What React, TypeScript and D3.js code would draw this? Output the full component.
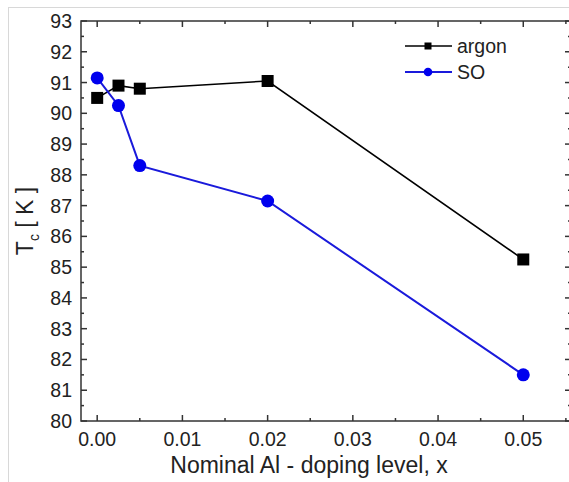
import React from "react";
import * as d3 from "d3";

const xValues = [0, 0.0025, 0.005, 0.02, 0.05];
const argon = [90.5, 90.9, 90.8, 91.05, 85.25];
const so = [91.15, 90.25, 88.3, 87.15, 81.5];
const xTicks = [0, 0.01, 0.02, 0.03, 0.04, 0.05];
const yTicks = [80, 81, 82, 83, 84, 85, 86, 87, 88, 89, 90, 91, 92, 93];

const W = 569, H = 482;
const L = 81, R = 571, T = 21, B = 421;

export default function App() {
  const x = d3.scaleLinear().domain([-0.0019, 0.0556]).range([L, R]);
  const y = d3.scaleLinear().domain([80, 93]).range([B, T]);
  const line = d3.line<number>().x((_, i) => x(xValues[i])).y(d => y(d));
  const xMinor = d3.range(0, 0.0551, 0.005);
  const yMinor = d3.range(80, 93.01, 0.5);
  const font = "Liberation Sans, Arial, sans-serif";
  return (
    <svg width={W} height={H} style={{ position: "absolute", left: 0, top: 0 }} fontFamily={font}>
      <rect x={0} y={0} width={W} height={H} fill="#fff" />
      <rect x={8.5} y={7.5} width={W + 10} height={H + 10} fill="none" stroke="#d8d8d8" strokeWidth={1} />
      {/* frame */}
      <rect x={L} y={T} width={R - L} height={B - T} fill="none" stroke="#333" strokeWidth={1.5} />
      {/* x ticks */}
      {xMinor.map((v, i) => {
        const major = Math.abs(v / 0.01 - Math.round(v / 0.01)) < 1e-6;
        const len = major ? 6 : 3;
        return (
          <g key={"xt" + i} stroke="#333" strokeWidth={1.5}>
            <line x1={x(v)} x2={x(v)} y1={B} y2={B - len} />
            <line x1={x(v)} x2={x(v)} y1={T} y2={T + len} />
          </g>
        );
      })}
      {yMinor.map((v, i) => {
        const major = Math.abs(v - Math.round(v)) < 1e-6;
        const len = major ? 6 : 3;
        return (
          <g key={"yt" + i} stroke="#333" strokeWidth={1.5}>
            <line x1={L} x2={L + len} y1={y(v)} y2={y(v)} />
            <line x1={R} x2={R - len} y1={y(v)} y2={y(v)} />
          </g>
        );
      })}
      {xTicks.map(v => (
        <text key={"xl" + v} x={x(v)} y={446} textAnchor="middle" fontSize={19.5} fill="#222">
          {v.toFixed(2)}
        </text>
      ))}
      {yTicks.map(v => (
        <text key={"yl" + v} x={72} y={y(v) + 7} textAnchor="end" fontSize={19.5} fill="#222">
          {v}
        </text>
      ))}
      <text x={309} y={473} textAnchor="middle" fontSize={23} fill="#222">
        Nominal Al - doping level, x
      </text>
      <text transform={`translate(33,${(T + B) / 2}) rotate(-90)`} textAnchor="middle" fontSize={23} fill="#222">
        T<tspan fontSize={14} dy={6}>c</tspan><tspan dy={-6}> [ K ]</tspan>
      </text>
      {/* series */}
      <path d={line(argon) || ""} fill="none" stroke="#000" strokeWidth={1.6} />
      <path d={line(so) || ""} fill="none" stroke="#1a1adb" strokeWidth={2} />
      {argon.map((v, i) => (
        <rect key={"a" + i} x={x(xValues[i]) - 6} y={y(v) - 6} width={12} height={12} fill="#000" />
      ))}
      {so.map((v, i) => (
        <circle key={"s" + i} cx={x(xValues[i])} cy={y(v)} r={6.5} fill="#0000ee" />
      ))}
      {/* legend */}
      <g>
        <line x1={405} x2={452} y1={46} y2={46} stroke="#000" strokeWidth={1.6} />
        <rect x={424.5} y={42.5} width={7} height={7} fill="#000" />
        <text x={457} y={53} fontSize={19.5} fill="#222">argon</text>
        <line x1={405} x2={452} y1={72} y2={72} stroke="#1a1adb" strokeWidth={2} />
        <circle cx={428} cy={72} r={4.3} fill="#0000ee" />
        <text x={457} y={79} fontSize={19.5} fill="#222">SO</text>
      </g>
    </svg>
  );
}
